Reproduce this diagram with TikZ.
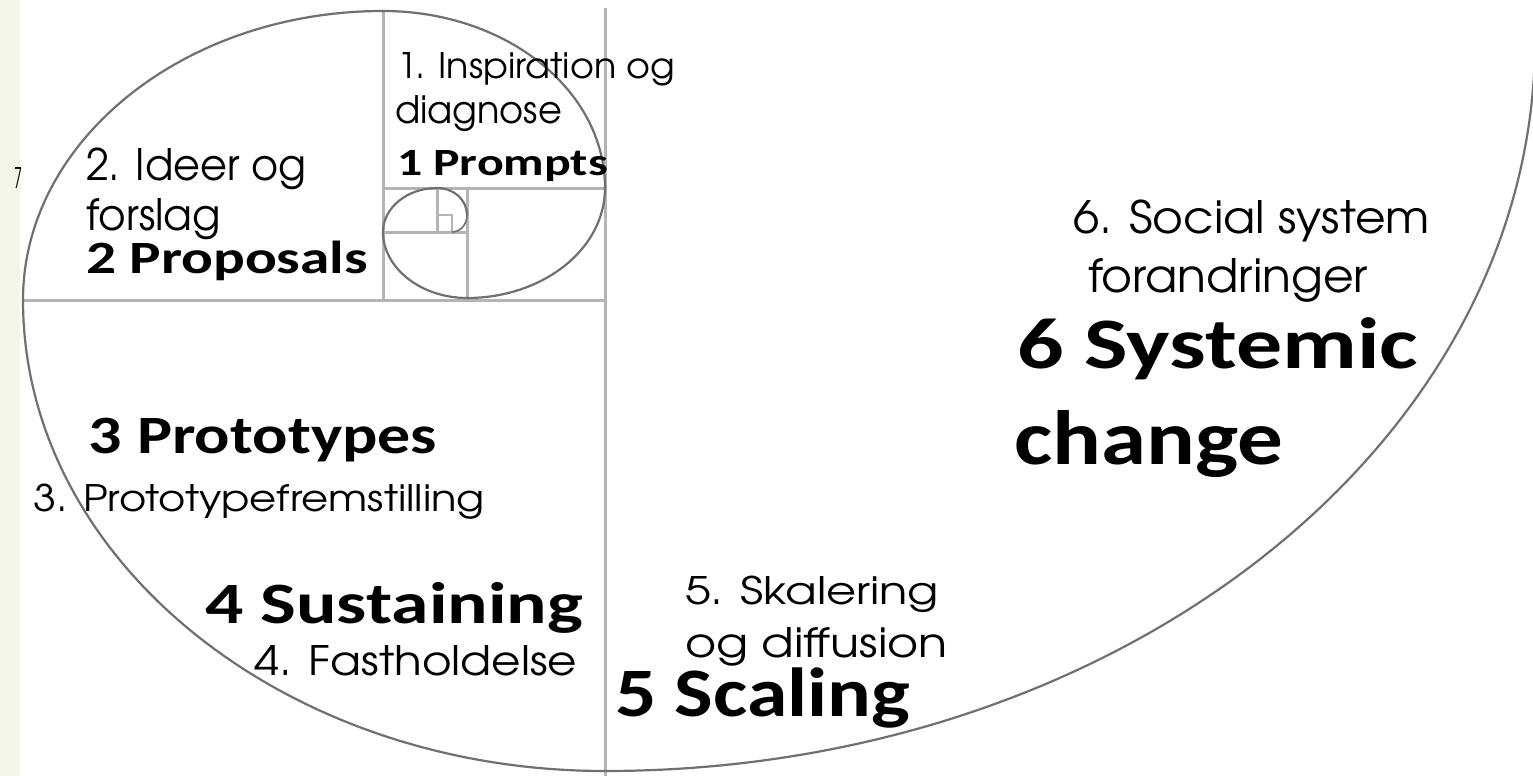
\documentclass[tikz,border=0pt]{standalone}
\usepackage{fontspec}
\usepackage{graphicx}
\newfontfamily\cgoth{texgyreadventor-regular.otf}
\newfontfamily\carl{Carlito}
\newlength\pxu
\setlength\pxu{0.5pt}
% #1 width px, #2 height px (of reference char), #3 font, #4 ref char, #5 text
\newcommand\fitbox[5]{\resizebox{#1\pxu}{#2\pxu}{#3\raisebox{0pt}[\fontcharht\font`#4][0pt]{#5}}}
\definecolor{stripc}{RGB}{243,245,233}
\definecolor{gridc}{RGB}{180,180,180}
\definecolor{arcc}{RGB}{112,112,112}
\tikzset{
  gridline/.style={draw=gridc, line width=1.5pt},
  spiral/.style={draw=arcc, line width=1.1pt},
  lbl/.style={anchor=base west, inner sep=0pt, outer sep=0pt, text=black}
}
\begin{document}
\begin{tikzpicture}[x=0.5pt,y=-0.5pt]
\useasboundingbox (0,0) rectangle (1533,776);
\clip (0,0) rectangle (1533,776);
\fill[white] (0,0) rectangle (1533,776);
\fill[stripc] (0,0) rectangle (20,776);
% straight lines
\draw[gridline] (605,8) -- (605,776);
\draw[gridline] (383,11) -- (383,300);
\draw[gridline] (23,300) -- (605,300);
\draw[gridline] (383,188) -- (605,188);
\draw[gridline] (467,188) -- (467,298);
\draw[gridline] (383,232) -- (467,232);
\draw[gridline] (437,188) -- (437,232);
\draw[gridline,line width=1pt] (437,215) -- (452,215) -- (452,232);
% spiral arcs
\draw[spiral] (605,771) .. controls (1119,771) and (1535,444) .. (1535,40);
\draw[spiral] (605,771) .. controls (284,771) and (23,560) .. (23,300);
\draw[spiral] (23,300) .. controls (23,141) and (184,11) .. (383,11);
\draw[spiral] (383,11) .. controls (506,11) and (605,90) .. (605,188);
\draw[spiral] (605,188) .. controls (605,249) and (543,298) .. (467,298);
\draw[spiral] (467,298) .. controls (421,298) and (383,268) .. (383,232);
\draw[spiral] (383,232) .. controls (383,208) and (407,188) .. (437,188);
\draw[spiral] (437,188) .. controls (454,188) and (467,200) .. (467,215);
\draw[spiral,line width=0.8pt] (467,215) .. controls (467,225) and (460,232) .. (452,232);
% Danish labels
\node[lbl] (t1a) at (397,78) {\fitbox{278}{26}{\cgoth}{X}{1. Inspiration og}};
\node[lbl] (t1b) at (395,123) {\fitbox{167}{28}{\cgoth}{d}{diagnose}};
\node[lbl] (t2a) at (86,180) {\fitbox{220}{32}{\cgoth}{X}{2. Ideer og}};
\node[lbl] (t2b) at (86,230) {\fitbox{135}{32}{\cgoth}{l}{forslag}};
\node[lbl] (t3b) at (33,511) {\fitbox{452}{27}{\cgoth}{X}{3. Prototypefremstilling}};
\node[lbl] (t4b) at (254,675) {\fitbox{323}{30}{\cgoth}{X}{4. Fastholdelse}};
\node[lbl] (t5a) at (685,604) {\fitbox{254}{28}{\cgoth}{X}{5. Skalering}};
\node[lbl] (t5b) at (685,657) {\fitbox{263}{30}{\cgoth}{d}{og diffusion}};
\node[lbl] (t6a) at (1073,233) {\fitbox{357}{33}{\cgoth}{X}{6. Social system}};
\node[lbl] (t6b) at (1088,292) {\fitbox{280}{34}{\cgoth}{d}{forandringer}};
\node[lbl] (t7) at (14,188) {\fitbox{8}{21}{\cgoth}{X}{7}};
% English bold labels
\node[lbl] (b1) at (397,175) {\fitbox{211}{25}{\carl\bfseries}{X}{1 Prompts}};
\node[lbl] (b2) at (86,273) {\fitbox{282}{30}{\carl\bfseries}{X}{2 Proposals}};
\node[lbl] (b3) at (89,453) {\fitbox{348}{35}{\carl\bfseries}{X}{3 Prototypes}};
\node[lbl] (b4) at (205,623) {\fitbox{378}{38}{\carl\bfseries}{X}{4 Sustaining}};
\node[lbl] (b5) at (615,716) {\fitbox{295}{45}{\carl\bfseries}{X}{5 Scaling}};
\node[lbl] (b6a) at (1017,368) {\fitbox{401}{47}{\carl\bfseries}{X}{6 Systemic}};
\node[lbl] (b6b) at (1014,464) {\fitbox{269}{54}{\carl\bfseries}{h}{change}};
\end{tikzpicture}
\end{document}
